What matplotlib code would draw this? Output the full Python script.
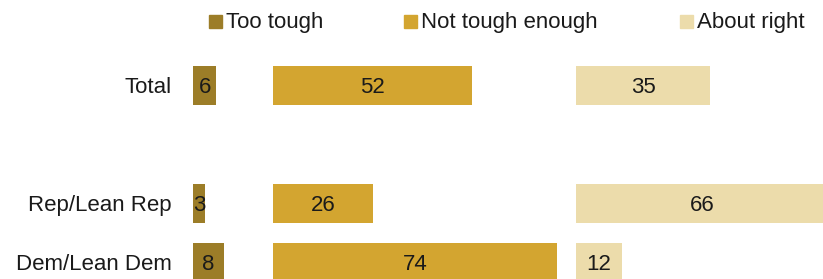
import numpy as np
import matplotlib.pyplot as plt

# data
groups = ["Total", "Rep/Lean Rep", "Dem/Lean Dem"]
group_pos = [0, 2, 3]
too_tough = [6, 3, 8]
not_enough = [52, 26, 74]
about_right = [35, 66, 12]
series_names = ["Too tough", "Not tough enough", "About right"]
colors = ["#9c7d28", "#d3a530", "#ecdcab"]

# layout: 1 data unit = 3.83 px
W, H = 823, 279
k = 3.83
row = 59.0
y0 = 85.3
offsets = [193.3 / k, 273.3 / k, 576 / k]

plt.rcParams['font.family'] = ['Liberation Sans', 'DejaVu Sans']

fig = plt.figure(figsize=(W / 100, H / 100), dpi=100)
ax = fig.add_axes([0, 0, 1, 1])
ax.set_xlim(0, W / k)
ax.set_ylim((H - y0) / row, -y0 / row)
ax.axis("off")

for vals, off, col in zip([too_tough, not_enough, about_right], offsets, colors):
    ax.barh(group_pos, vals, left=off, height=0.655, color=col)
    for p, v in zip(group_pos, vals):
        ax.text(off + v / 2, p + 0.03, str(v), ha="center", va="center",
                fontsize=16, color="#1a1a1a")

for p, g in zip(group_pos, groups):
    ax.text(171.7 / k, p + 0.03, g, ha="right", va="center", fontsize=16, color="#1a1a1a")

# legend
leg_sq = [209.3, 404, 680]
ly = (21 - y0) / row
for x, name, col in zip(leg_sq, series_names, colors):
    ax.add_patch(plt.Rectangle((x / k, ly - 6.5 / row), 13 / k, 13 / row, color=col, clip_on=False))
    ax.text((x + 17) / k, ly + 0.02, name, ha="left", va="center", fontsize=16, color="#1a1a1a")

fig.savefig("out.png", dpi=100)
